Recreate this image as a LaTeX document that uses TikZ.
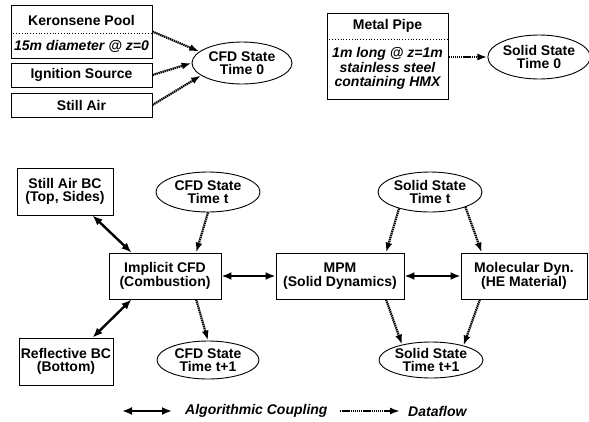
\documentclass[tikz,border=0pt]{standalone}
\usepackage{fontspec}
\setmainfont{Liberation Sans}
\usetikzlibrary{shapes.geometric,arrows.meta}

\tikzset{
  txt/.style={font=\bfseries\fontsize{14}{13.5}\selectfont, align=center, inner sep=0},
  box/.style={txt, draw, line width=0.9pt, rectangle},
  state/.style={txt, draw, line width=0.9pt, ellipse},
  couple/.style={{Latex[length=10pt,width=8pt]}-{Latex[length=10pt,width=8pt]}, line width=2.4pt},
  flow/.style={-{Latex[length=10pt,width=7pt]}, line width=2.2pt, dash pattern=on 1.4pt off 0.7pt},
}

\begin{document}
\begin{tikzpicture}[x=1pt, y=-1pt]
\useasboundingbox (0,0) rectangle (589,421);

% initial conditions
\node[box, minimum width=141, minimum height=53] (pool) at (81.5,31.5) {};
\node[txt] (pooltitle) at (81.5,20) {Keronsene Pool};
\node[txt, font=\bfseries\itshape\fontsize{14}{13.5}\selectfont] (pooltxt) at (81.5,46) {15m diameter @ z=0};
\draw[dotted, line width=0.8pt] (pool.west |- 0,33) -- (pool.east |- 0,33);
\node[box, minimum width=141, minimum height=24] (ign) at (81.5,75) {Ignition Source};
\node[box, minimum width=141, minimum height=24] (air) at (81.5,105) {Still Air};
\node[state, minimum width=100, minimum height=42] (cfd0) at (242,63) {CFD State\\Time 0};

\foreach \src/\ang in {pool/165,ign/180,air/197}{
  \draw[flow] (\src.east) -- (cfd0.\ang);
}

\node[box, minimum width=121, minimum height=86] (pipe) at (387.5,56) {};
\node[txt] (pipetitle) at (387.5,26) {Metal Pipe};
\node[txt, font=\bfseries\itshape\fontsize{14}{14.5}\selectfont] (pipetxt) at (387.5,68.5) {1m long @ z=1m\\stainless steel\\containing HMX};
\draw[dotted, line width=0.8pt] (pipe.west |- 0,39) -- (pipe.east |- 0,39);
\node[state, minimum width=98, minimum height=44] (solid0) at (539,57) {Solid State\\Time 0};
\draw[flow] (pipe.east |- solid0) -- (solid0.west);

% time step
\node[box, minimum width=96, minimum height=47] (sabc) at (65,191.5) {Still Air BC\\(Top, Sides)};
\node[box, minimum width=94, minimum height=47] (rbc) at (66,361.5) {Reflective BC\\(Bottom)};
\node[box, minimum width=112, minimum height=46] (icfd) at (165,276) {Implicit CFD\\(Combustion)};
\node[box, minimum width=128, minimum height=46] (mpm) at (340,276) {MPM\\(Solid Dynamics)};
\node[box, minimum width=126, minimum height=46] (md) at (524,276) {Molecular Dyn.\\(HE Material)};
\node[state, minimum width=104, minimum height=40] (cfdt) at (208,192) {CFD State\\Time t};
\node[state, minimum width=102, minimum height=38] (cfdt1) at (208,360) {CFD State\\Time t+1};
\node[state, minimum width=104, minimum height=40] (sst) at (430,192) {Solid State\\Time t};
\node[state, minimum width=104, minimum height=36] (sst1) at (431,360) {Solid State\\Time t+1};

\draw[couple] (sabc.-41) -- (icfd.145);
\draw[couple] (rbc.42) -- (icfd.215);
\draw[couple] (icfd.east) -- (mpm.west);
\draw[couple] (mpm.east) -- (md.west);

\draw[flow] (cfdt.south) -- (icfd.37);
\draw[flow] (icfd.-37) -- (cfdt1.north);
\draw[flow] (sst.208) -- (mpm.27);
\draw[flow] (sst.-23) -- (md.151);
\draw[flow] (mpm.-27) -- (sst1.152);
\draw[flow] (md.208) -- (sst1.24);

% legend
\coordinate (cpa) at (122,411);
\coordinate (cpb) at (172,411);
\coordinate (fla) at (340,411);
\coordinate (flb) at (400,411);
\draw[couple] (cpa) -- (cpb);
\node[txt, font=\bfseries\itshape\fontsize{14}{14}\selectfont, anchor=west] (cplbl) at (185,411) {Algorithmic Coupling};
\draw[flow] (fla) -- (flb);
\node[txt, font=\bfseries\itshape\fontsize{14}{14}\selectfont, anchor=west] (fllbl) at (408,411) {Dataflow};

\end{tikzpicture}
\end{document}
